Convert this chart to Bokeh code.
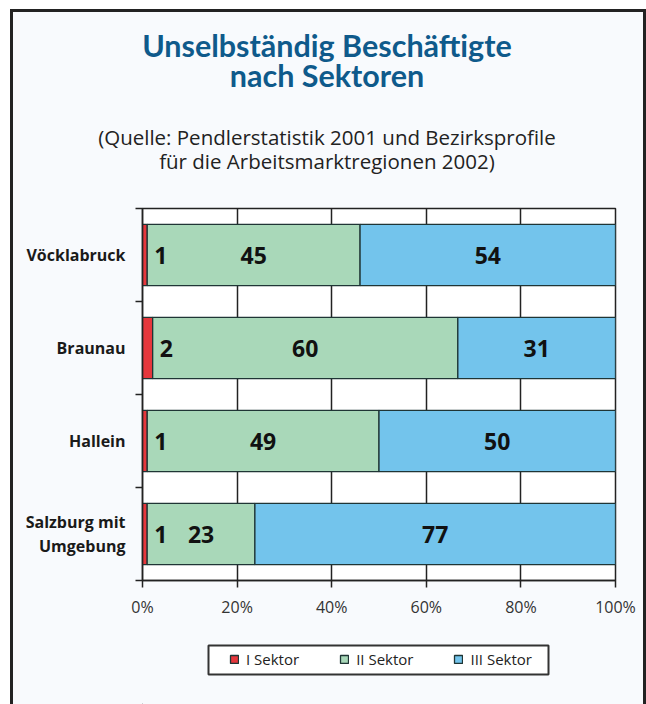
import numpy as np
from bokeh.plotting import figure
from bokeh.layouts import column
from bokeh.models import (Range1d, FixedTicker, ColumnDataSource, LinearAxis,
                          Legend, LegendItem, PrintfTickFormatter)
from bokeh.core.properties import value
from bokeh.embed import file_html
from bokeh.resources import INLINE

# ---------------- data ----------------
regions = ["Vöcklabruck", "Braunau", "Hallein", "Salzburg mit\nUmgebung"]
sektor_1 = [1, 2, 1, 1]
sektor_2 = [45, 60, 49, 23]
sektor_3 = [54, 31, 50, 77]
series_names = ["I Sektor", "II Sektor", "III Sektor"]
x_ticks = [0, 20, 40, 60, 80, 100]
title_lines = ["Unselbständig Beschäftigte", "nach Sektoren"]
subtitle_lines = ["(Quelle: Pendlerstatistik 2001 und Bezirksprofile",
                  "für die Arbeitsmarktregionen 2002)"]

# ---------------- styles ----------------
RED, GREEN, BLUE = "#e6373c", "#a9d8b9", "#73c4ec"
COLORS = [RED, GREEN, BLUE]
OUTLINE = "#1f3535"
DARK = "#222222"
PANEL = "#f8fafd"
FONT = "Open Sans"
TITLE_AT = 39   # horizontal anchor of the heading (in % axis units)
W = 630
BL, FW, BR = 129, 473, 28   # left border, frame width, right border (px)

n = len(regions)
ypos = [n - 1 - i for i in range(n)]
s1 = np.array(sektor_1, float)
s2 = np.array(sektor_2, float)
s3 = np.array(sektor_3, float)
tot = s1 + s2 + s3
e1 = s1 / tot * 100
e2 = (s1 + s2) / tot * 100
e3 = (s1 + s2 + s3) / tot * 100

src = ColumnDataSource(dict(
    y=ypos, l1=np.zeros(n), r1=e1, l2=e1, r2=e2, l3=e2, r3=e3,
    c2=(e1 + e2) / 2, c3=(e2 + e3) / 2,
    t1=[str(v) for v in sektor_1], t2=[str(v) for v in sektor_2], t3=[str(v) for v in sektor_3],
))

# ---------------- main chart ----------------
p = figure(title=None, frame_width=FW, frame_height=372,
           min_border_left=BL, min_border_right=BR, min_border_top=196, min_border_bottom=60,
           x_range=Range1d(0, 100), y_range=Range1d(-0.5, n - 0.5),
           output_backend="svg", toolbar_location=None)
p.border_fill_color = PANEL
p.background_fill_color = "#ffffff"
p.outline_line_color = DARK
p.outline_line_width = 1.5

for k, c in enumerate(COLORS, start=1):
    p.hbar(y="y", left=f"l{k}", right=f"r{k}", height=0.66, source=src,
           fill_color=c, line_color=OUTLINE, line_width=1.3)

lab_kw = dict(source=src, text_font=value(FONT), text_font_style="bold", text_font_size="23px",
              text_color="#111111", text_baseline="middle")
p.text(x="r1", y="y", text="t1", x_offset=7, text_align="left", **lab_kw)
p.text(x="c2", y="y", text="t2", text_align="center", **lab_kw)
p.text(x="c3", y="y", text="t3", text_align="center", **lab_kw)

# x axis
xax = p.xaxis[0]
xax.ticker = FixedTicker(ticks=x_ticks)
xax.formatter = PrintfTickFormatter(format="%d%%")
xax.major_label_text_font = FONT
xax.major_label_text_font_size = "16px"
xax.major_label_text_color = "#333333"
xax.major_tick_out = 7
xax.major_tick_in = 0
xax.minor_tick_out = 0
xax.minor_tick_in = 0
xax.axis_line_color = DARK
xax.axis_line_width = 1.5
xax.major_tick_line_color = DARK
xax.major_tick_line_width = 1.5
xax.major_label_standoff = 8

# y axis
yax = p.yaxis[0]
yax.ticker = FixedTicker(ticks=ypos, minor_ticks=[v - 0.5 for v in range(n + 1)])
yax.major_label_overrides = {ypos[i]: regions[i] for i in range(n)}
yax.major_label_text_font = FONT
yax.major_label_text_font_style = "bold"
yax.major_label_text_font_size = "16px"
yax.major_label_text_color = "#1a1a1a"
yax.major_label_text_line_height = 1.05
yax.major_tick_out = 0
yax.major_tick_in = 0
yax.minor_tick_out = 7
yax.minor_tick_in = 0
yax.minor_tick_line_color = DARK
yax.minor_tick_line_width = 1.5
yax.axis_line_color = DARK
yax.axis_line_width = 1.5
yax.major_label_standoff = 10

p.ygrid.visible = False
p.xgrid.grid_line_color = DARK
p.xgrid.grid_line_width = 1.5

# heading: two label-only axes above the frame (first one is nearest the frame)
def heading_axis(text, size, style, color, standoff, line_height, font):
    return LinearAxis(ticker=FixedTicker(ticks=[TITLE_AT]),
                      major_label_overrides={TITLE_AT: text},
                      axis_line_color=None, major_tick_line_color=None, minor_tick_line_color=None,
                      major_tick_out=0, major_tick_in=0, minor_tick_out=0, minor_tick_in=0,
                      major_label_standoff=standoff, major_label_text_font=font,
                      major_label_text_font_size=size, major_label_text_font_style=style,
                      major_label_text_color=color, major_label_text_line_height=line_height)

p.add_layout(heading_axis("\n".join(subtitle_lines), "20.5px", "normal", "#222222", 34, 0.83, FONT), "above")
p.add_layout(heading_axis("\n".join(title_lines), "30.5px", "bold", "#0f5a8b", 28, 0.83, "Lato"), "above")

# ---------------- legend strip (pixel-unit ranges, frame aligned with the chart) ----------------
LH = 64
q = figure(width=W, height=LH, min_border_left=BL, min_border_right=BR, min_border_top=0,
           min_border_bottom=0, x_range=Range1d(BL, BL + FW), y_range=Range1d(0, LH),
           x_axis_type=None, y_axis_type=None, output_backend="svg", toolbar_location=None)
q.border_fill_color = PANEL
q.background_fill_color = PANEL
q.outline_line_color = None
q.grid.visible = False
# the legend's box
q.quad(left=[195], right=[535], bottom=[30], top=[59], fill_color="#ffffff",
       line_color="#333333", line_width=2)
# off-range swatch renderers that only feed the legend
swatch = ColumnDataSource(dict(y=[-50], left=[0], right=[1]))
dummies = [q.hbar(y="y", left="left", right="right", height=1, source=swatch,
                  fill_color=c, line_color=OUTLINE, line_width=1.3) for c in COLORS]
legend = Legend(items=[LegendItem(label=series_names[k], renderers=[dummies[k]]) for k in range(3)],
                orientation="horizontal", location=(82, 30),
                glyph_width=10, glyph_height=10, label_standoff=7, spacing=40, padding=5,
                label_text_font=FONT, label_text_font_size="15px", label_text_color="#222222",
                border_line_alpha=0, background_fill_alpha=0, margin=0)
q.add_layout(legend, "center")

page = column(p, q, spacing=0)
page.styles = {"margin-left": "10px", "margin-top": "9px", "background-color": PANEL,
               "border-left": "3px solid #222", "border-right": "3px solid #222",
               "border-top": "3px solid #222"}

open("out.html", "w").write(file_html(page, INLINE))
